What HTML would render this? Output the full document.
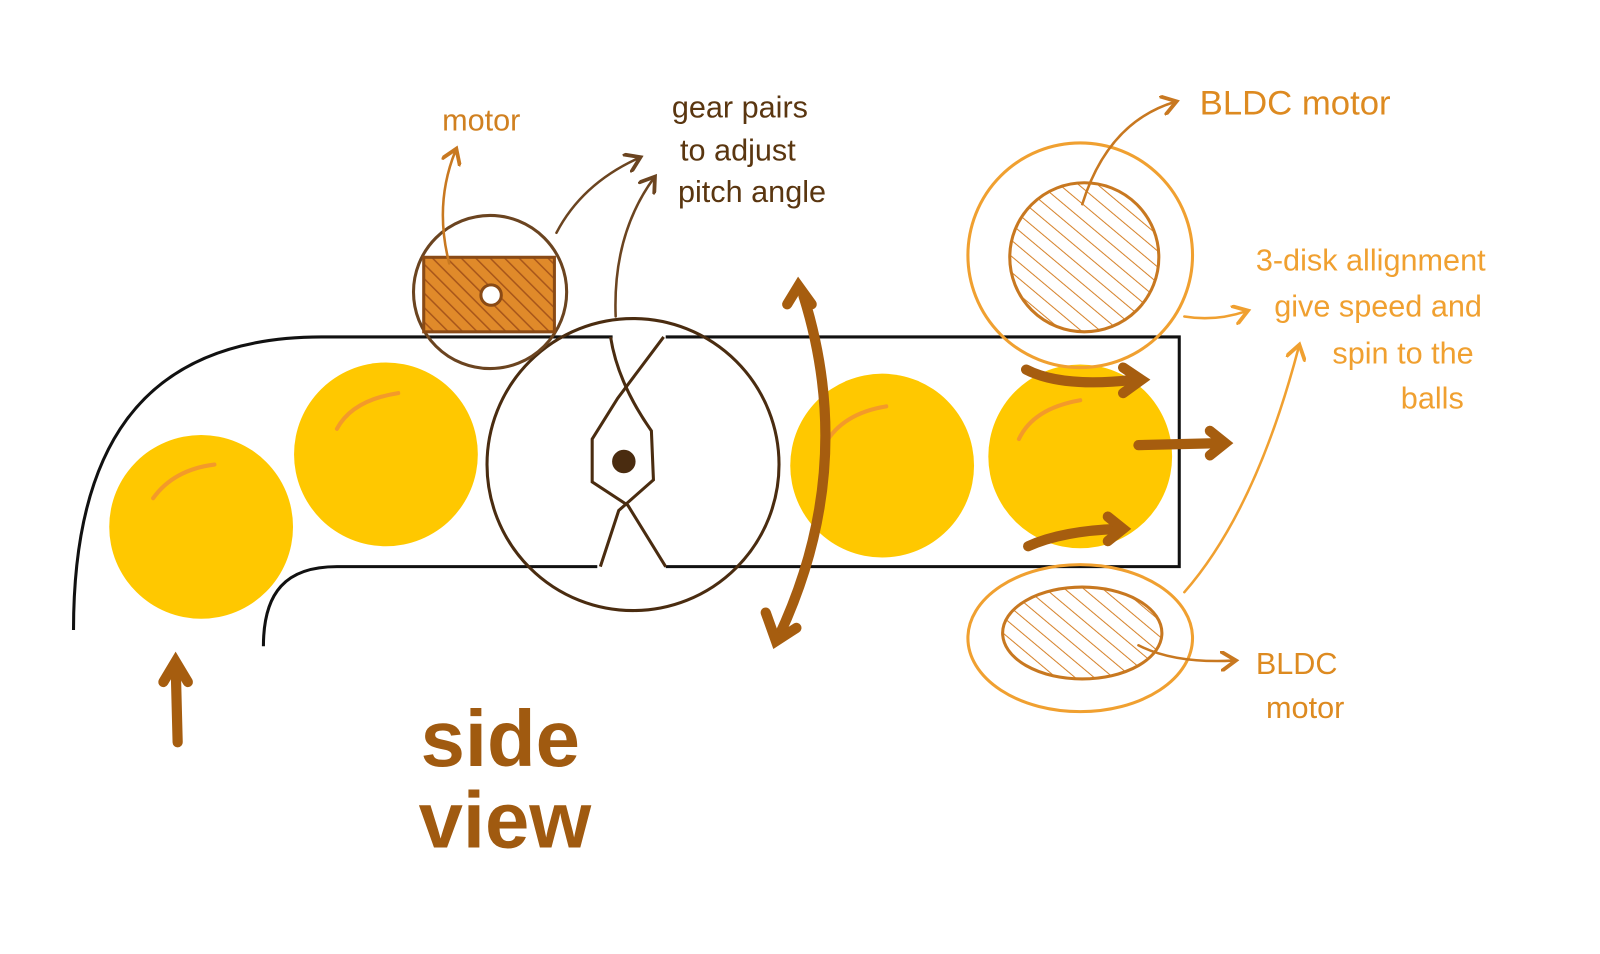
<!DOCTYPE html>
<html><head><meta charset="utf-8"><style>
html,body{margin:0;padding:0;background:#fff}
svg{display:block}
text{font-family:"Liberation Sans",sans-serif}
</style></head><body>
<svg width="1600" height="954" viewBox="0 0 1600 954">
<defs>
<pattern id="hatch" width="10" height="10" patternUnits="userSpaceOnUse" patternTransform="rotate(-45)">
<rect width="10" height="10" fill="#e08a2a"/><line x1="0" y1="0" x2="0" y2="10" stroke="#a8561a" stroke-width="3"/></pattern>
<pattern id="hatch2" width="12" height="12" patternUnits="userSpaceOnUse" patternTransform="rotate(-50)">
<rect width="12" height="12" fill="#fff"/><line x1="0" y1="0" x2="0" y2="12" stroke="#d6822a" stroke-width="2"/></pattern>
<marker id="ah" markerWidth="8" markerHeight="8" refX="5" refY="4" orient="auto"><path d="M0,0 L6,4 L0,8" fill="none" stroke="context-stroke" stroke-width="1.5"/></marker>
</defs>
<g transform="scale(1.021)">
<g fill="none" stroke="#111" stroke-width="3">
<path d="M72,617 C72,450 130,330 315,330 L600,330"/>
<path d="M652,330 L1155,330 L1155,555 L652,555"/>
<path d="M258,633 C258,580 280,555 330,555 L585,555"/>
</g>
<g fill="#ffc800">
<circle cx="197" cy="516" r="90"/>
<circle cx="378" cy="445" r="90"/>
<circle cx="864" cy="456" r="90"/>
<circle cx="1058" cy="447" r="90"/>
</g>
<g fill="none" stroke="#f39a2a" stroke-width="4" stroke-linecap="round">
<path d="M150,488 Q170,460 210,455"/><path d="M330,420 Q345,392 390,385"/><path d="M808,435 Q825,405 868,398"/><path d="M998,430 Q1012,400 1058,392"/>
</g>
<g fill="none" stroke="#4a2c10" stroke-width="3">
<circle cx="620" cy="455" r="143"/>
<path d="M598,330 Q605,375 638,422 L640,470 L606,500 L588,555"/>
<path d="M650,330 L605,390 L580,430 L580,472 L615,495 L652,555"/>
<circle cx="611" cy="452" r="10" fill="#4a2c10"/>
</g>
<g>
<circle cx="480" cy="286" r="75" fill="none" stroke="#6b4420" stroke-width="3"/>
<rect x="415" y="252" width="128" height="73" fill="url(#hatch)" stroke="#8a4a15" stroke-width="3"/>
<circle cx="481" cy="289" r="10" fill="#fff" stroke="#8a4a15" stroke-width="3"/>
</g>
<g fill="none" stroke="#f0a030" stroke-width="3">
<circle cx="1058" cy="250" r="110"/>
<circle cx="1062" cy="252" r="73" fill="url(#hatch2)" stroke="#c87820"/>
</g>
<g fill="none" stroke="#f0a030" stroke-width="3">
<ellipse cx="1058" cy="625" rx="110" ry="72"/>
<ellipse cx="1060" cy="620" rx="78" ry="45" fill="url(#hatch2)" stroke="#c87820"/>
</g>
<g fill="none" stroke="#a65d0f" stroke-width="10" stroke-linecap="round">
<path d="M1005,362 Q1040,380 1110,372"/><path d="M1100,360 L1118,372 L1100,385"/>
<path d="M1115,436 L1195,434"/><path d="M1185,422 L1200,434 L1185,446"/>
<path d="M1007,535 Q1040,520 1095,518"/><path d="M1085,506 L1100,518 L1085,530"/>
<path d="M174,727 L172,650"/><path d="M160,668 L172,648 L184,668"/>
<path d="M787,290 Q840,460 762,625"/><path d="M771,298 L782,280 L795,298"/><path d="M750,600 L760,628 L780,615"/>
</g>
<g fill="none" stroke-width="2.5" stroke-linecap="round">
<path d="M440,258 Q425,200 446,148" stroke="#c87820" marker-end="url(#ah)"/>
<path d="M545,228 Q570,180 625,155" stroke="#6b4420" marker-end="url(#ah)"/>
<path d="M603,310 Q600,230 640,175" stroke="#6b4420" marker-end="url(#ah)"/>
<path d="M1060,200 Q1085,120 1150,100" stroke="#c87820" marker-end="url(#ah)"/>
<path d="M1160,310 Q1190,315 1220,305" stroke="#f0a030" marker-end="url(#ah)"/>
<path d="M1160,580 Q1230,500 1272,340" stroke="#f0a030" marker-end="url(#ah)"/>
<path d="M1115,632 Q1150,650 1208,647" stroke="#c87820" marker-end="url(#ah)"/>
</g>
<g font-size="30">
<text x="433" y="128" fill="#d08020">motor</text>
<text fill="#5a3610">
<tspan x="658" y="115">gear pairs</tspan><tspan x="666" y="157">to adjust</tspan><tspan x="664" y="198">pitch angle</tspan></text>
<text x="1175" y="112" fill="#dd8a20" font-size="34">BLDC motor</text>
<text fill="#f0a030">
<tspan x="1230" y="265">3-disk allignment</tspan><tspan x="1248" y="310">give speed and</tspan><tspan x="1305" y="356">spin to the</tspan><tspan x="1372" y="400">balls</tspan></text>
<text fill="#dd8a20"><tspan x="1230" y="660">BLDC</tspan><tspan x="1240" y="703">motor</tspan></text>
</g>
<text fill="#a05a10" font-size="78" font-weight="bold"><tspan x="412" y="750">side</tspan><tspan x="410" y="830">view</tspan></text>
</g>
</svg>
</body></html>
